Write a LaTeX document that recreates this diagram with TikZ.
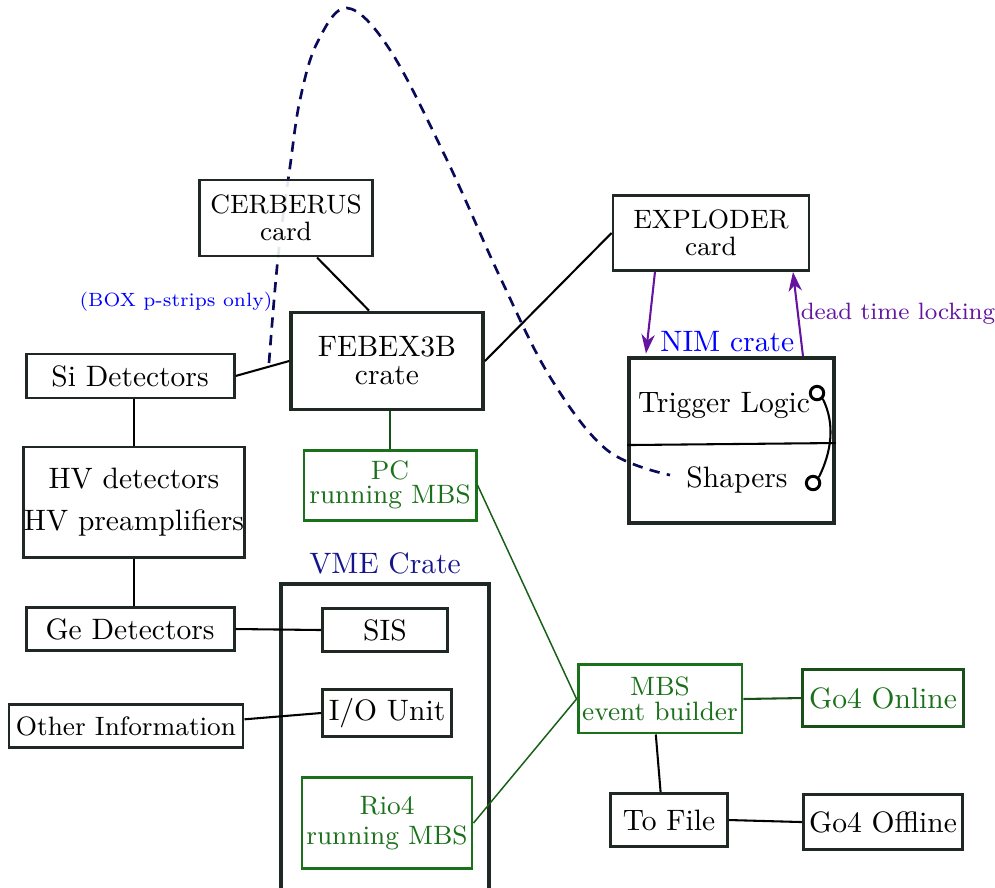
\documentclass[tikz,border=0pt]{standalone}
\usepackage{tikz}
\usetikzlibrary{positioning,arrows.meta}
\definecolor{boxgray}{RGB}{32,40,36}
\definecolor{mbsgreen}{RGB}{27,112,27}
\definecolor{onlinegreen}{RGB}{25,80,25}
\definecolor{lockpurple}{RGB}{100,20,160}
\definecolor{cratenavy}{RGB}{20,20,140}
\definecolor{curvenavy}{RGB}{10,10,90}

\begin{document}
\begin{tikzpicture}
     \tikzstyle{unit}=[draw=boxgray, line width=1pt, align=center, inner sep=0pt]
     \tikzstyle{crate}=[draw=boxgray, line width=1.3pt, align=center, inner sep=0pt]
     \tikzstyle{mbsnode}=[draw=mbsgreen, line width=1pt, text=mbsgreen, align=center, inner sep=0pt, font=\small]
     \tikzstyle{wire}=[draw=black, line width=0.7pt]
     \tikzstyle{mbswire}=[draw=mbsgreen!85!black, line width=0.5pt]
     \tikzstyle{lock}=[draw=lockpurple, line width=0.7pt, -{Stealth[length=6.5pt, width=4.5pt, inset=2pt]}]
     \useasboundingbox (0,0) rectangle (11.845,-10.571);
     % dashed link, drawn first so the card covers it
     \coordinate (linkstart) at (3.202,-4.321);
     \coordinate (linkend) at (7.976,-5.655);
     \draw[curvenavy, line width=0.9pt, dash pattern=on 3.5pt off 2.5pt] plot[smooth, tension=0.6] coordinates {(linkstart) (3.31,-3.06) (3.452,-1.988) (3.571,-1.19) (3.774,-0.512) (4.131,-0.095) (4.643,-0.595) (5.321,-1.905) (5.952,-3.298) (6.548,-4.488) (7.226,-5.357) (linkend)};
     \node[unit, fill=white, fill opacity=0.9, text opacity=1, font=\small, minimum width=2.06cm, minimum height=0.905cm] (cerberus) at (3.405,-2.595) {CERBERUS\\[-2pt]card};
     \node[crate, minimum width=2.286cm, minimum height=1.155cm] (febex) at (4.607,-4.298) {FEBEX3B\\[-2.5pt]crate};
     \node[unit, minimum width=2.476cm, minimum height=0.524cm] (si) at (1.548,-4.476) {Si Detectors};
     \node[unit, minimum width=2.583cm, minimum height=1.31cm] (hv) at (1.595,-5.976) {HV detectors\\[2pt]HV preamplifiers};
     \node[mbsnode, minimum width=2.048cm, minimum height=0.833cm] (pc) at (4.643,-5.774) {PC\\[-3pt]running MBS};
     \node[crate, minimum width=2.476cm, minimum height=3.848cm] (vme) at (4.583,-8.876) {};
     \node[text=cratenavy, above=-1pt of vme.north] (vmelabel) {VME Crate};
     \node[unit, minimum width=1.488cm, minimum height=0.512cm] (sis) at (4.583,-7.5) {SIS};
     \node[unit, minimum width=1.536cm, minimum height=0.56cm] (io) at (4.607,-8.488) {I/O Unit};
     \node[mbsnode, minimum width=2.024cm, minimum height=1.083cm] (rio) at (4.607,-9.798) {Rio4\\[-1pt]running MBS};
     \node[unit, minimum width=2.476cm, minimum height=0.512cm] (ge) at (1.548,-7.488) {Ge Detectors};
     \node[unit, font=\small, minimum width=2.786cm, minimum height=0.512cm] (other) at (1.5,-8.643) {Other Information};
     \node[unit, font=\small, minimum width=2.333cm, minimum height=0.893cm] (exploder) at (8.464,-2.774) {EXPLODER\\[-2pt]card};
     \node[crate, minimum width=2.44cm, minimum height=1.964cm] (nim) at (8.708,-5.244) {};
     \node[text=blue, above=-2pt of nim.north, xshift=-0.05cm] (nimlabel) {NIM crate};
     \node (trigger) at (8.619,-4.821) {Trigger Logic};
     \node (shapers) at (8.774,-5.714) {Shapers};
     \node[draw, circle, line width=1pt, inner sep=0pt, minimum size=0.16cm] (ringtop) at (9.726,-4.679) {};
     \node[draw, circle, line width=1pt, inner sep=0pt, minimum size=0.16cm] (ringbottom) at (9.679,-5.75) {};
     \node[mbsnode, minimum width=1.952cm, minimum height=0.81cm] (mbs) at (7.857,-8.321) {MBS\\[-2.5pt]event builder};
     \node[unit, draw=onlinegreen, text=mbsgreen, minimum width=1.917cm, minimum height=0.679cm] (online) at (10.512,-8.31) {Go4 Online};
     \node[unit, minimum width=1.393cm, minimum height=0.631cm] (tofile) at (7.964,-9.762) {To File};
     \node[unit, minimum width=1.893cm, minimum height=0.655cm] (offline) at (10.512,-9.786) {Go4 Offline};
     \node[text=blue, font=\fontsize{6.5}{8}\selectfont] (boxnote) at (2.095,-3.595) {(BOX p-strips only)};
     \node[text=lockpurple, font=\footnotesize] (locknote) at (10.69,-3.738) {dead time locking};
     % connections
     \draw[wire] ([xshift=0.369cm]cerberus.south) -- ([xshift=-0.214cm]febex.north);
     \draw[wire] (si.east) -- (febex.west);
     \draw[wire] (febex.east) -- (exploder.west);
     \draw[wire, onlinegreen] (pc.north |- febex.south) -- (pc.north);
     \draw[wire] (hv.north |- si.south) -- (hv.north);
     \draw[wire] (hv.south) -- (hv.south |- ge.north);
     \draw[wire] (ge.east) -- (sis.west);
     \draw[wire] ([yshift=0.08cm]other.east) -- (io.west);
     \draw[mbswire] (pc.east) -- (mbs.west);
     \draw[mbswire] (rio.east) -- (mbs.west);
     \draw[wire] ([xshift=-0.05cm]mbs.south) -- ([xshift=-0.1cm]tofile.north);
     \draw[wire, onlinegreen] (mbs.east) -- (online.west);
     \draw[wire] (tofile.east) -- (offline.west);
     \draw[lock] ([xshift=-0.667cm]exploder.south) -- ([xshift=-1.018cm, yshift=0.03cm]nim.north);
     \draw[lock] ([xshift=0.851cm]nim.north) -- ([xshift=0.976cm]exploder.south);
     \draw[wire] ([yshift=-0.054cm]nim.west) -- ([yshift=-0.03cm]nim.east);
     \draw[wire] (ringtop.south east) .. controls +(0.15,-0.3) and +(0.15,0.3) .. (ringbottom.north east);
\end{tikzpicture}
\end{document}
